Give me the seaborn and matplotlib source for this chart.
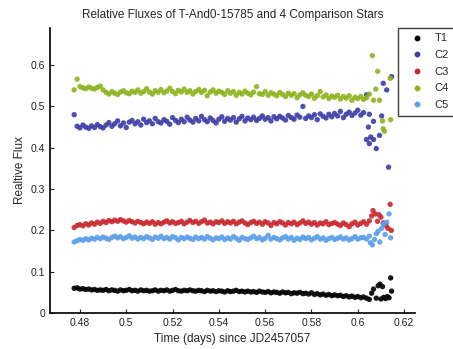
import numpy as np
import pandas as pd
import matplotlib
matplotlib.use('Agg')
import matplotlib.pyplot as plt
import seaborn as sns

# --- observation times (days since JD2457057), main run ---
time = [0.4775, 0.4788, 0.4800, 0.4813, 0.4825, 0.4838, 0.4850, 0.4863, 0.4875, 0.4888,
        0.4900, 0.4913, 0.4925, 0.4938, 0.4950, 0.4963, 0.4975, 0.4988, 0.5000, 0.5013,
        0.5025, 0.5038, 0.5050, 0.5063, 0.5075, 0.5088, 0.5100, 0.5113, 0.5125, 0.5138,
        0.5150, 0.5163, 0.5175, 0.5188, 0.5200, 0.5213, 0.5225, 0.5238, 0.5250, 0.5263,
        0.5275, 0.5288, 0.5300, 0.5313, 0.5325, 0.5338, 0.5350, 0.5363, 0.5375, 0.5388,
        0.5400, 0.5413, 0.5425, 0.5438, 0.5450, 0.5463, 0.5475, 0.5488, 0.5500, 0.5513,
        0.5525, 0.5538, 0.5550, 0.5563, 0.5575, 0.5588, 0.5600, 0.5613, 0.5625, 0.5638,
        0.5650, 0.5663, 0.5675, 0.5688, 0.5700, 0.5713, 0.5725, 0.5738, 0.5750, 0.5763,
        0.5775, 0.5788, 0.5800, 0.5813, 0.5825, 0.5838, 0.5850, 0.5863, 0.5875, 0.5888,
        0.5900, 0.5913, 0.5925, 0.5938, 0.5950, 0.5963, 0.5975, 0.5988, 0.6000, 0.6013,
        0.6025, 0.6038, 0.6050]

t1 = [0.060, 0.061, 0.058, 0.059, 0.057, 0.058, 0.056, 0.057, 0.055, 0.056,
      0.055, 0.057, 0.054, 0.056, 0.055, 0.053, 0.056, 0.054, 0.055, 0.057,
      0.054, 0.055, 0.053, 0.056, 0.054, 0.055, 0.053, 0.054, 0.056, 0.053,
      0.055, 0.054, 0.056, 0.053, 0.055, 0.057, 0.054, 0.053, 0.055, 0.054,
      0.056, 0.054, 0.053, 0.055, 0.054, 0.052, 0.055, 0.053, 0.054, 0.052,
      0.054, 0.053, 0.051, 0.054, 0.052, 0.053, 0.055, 0.052, 0.053, 0.051,
      0.053, 0.051, 0.052, 0.050, 0.053, 0.051, 0.050, 0.052, 0.049, 0.051,
      0.050, 0.048, 0.051, 0.049, 0.050, 0.047, 0.049, 0.048, 0.050, 0.047,
      0.048, 0.046, 0.049, 0.045, 0.047, 0.044, 0.046, 0.043, 0.045, 0.042,
      0.044, 0.042, 0.043, 0.040, 0.042, 0.039, 0.041, 0.038, 0.040, 0.037,
      0.039, 0.036, 0.033]

c2 = [0.480, 0.452, 0.448, 0.455, 0.450, 0.447, 0.453, 0.449, 0.456, 0.451,
      0.448, 0.455, 0.461, 0.452, 0.458, 0.465, 0.453, 0.460, 0.449, 0.462,
      0.466, 0.458, 0.463, 0.455, 0.469, 0.461, 0.465, 0.458, 0.471, 0.463,
      0.460, 0.468, 0.464, 0.457, 0.473, 0.466, 0.461, 0.469, 0.463, 0.474,
      0.467, 0.462, 0.471, 0.465, 0.476, 0.468, 0.463, 0.472, 0.466, 0.460,
      0.469, 0.475, 0.464, 0.471, 0.467, 0.473, 0.462, 0.470, 0.476, 0.465,
      0.472, 0.468, 0.474, 0.466, 0.471, 0.477, 0.469, 0.473, 0.465, 0.475,
      0.470, 0.476, 0.472, 0.467, 0.478, 0.473, 0.469, 0.479, 0.474, 0.500,
      0.471, 0.477, 0.473, 0.480, 0.468, 0.482, 0.476, 0.472, 0.481, 0.475,
      0.483, 0.477, 0.488, 0.473, 0.481, 0.486, 0.478, 0.484, 0.491, 0.479,
      0.485, 0.528, 0.481]

c3 = [0.207, 0.212, 0.214, 0.211, 0.216, 0.213, 0.218, 0.215, 0.220, 0.217,
      0.222, 0.219, 0.224, 0.221, 0.225, 0.222, 0.226, 0.223, 0.220, 0.224,
      0.221, 0.218, 0.222, 0.219, 0.216, 0.220, 0.217, 0.221, 0.215, 0.219,
      0.216, 0.220, 0.223, 0.218, 0.221, 0.217, 0.219, 0.222, 0.216, 0.220,
      0.224, 0.219, 0.222, 0.217, 0.221, 0.225, 0.218, 0.220, 0.216, 0.221,
      0.219, 0.223, 0.217, 0.221, 0.218, 0.222, 0.216, 0.220, 0.223, 0.218,
      0.214, 0.219, 0.222, 0.217, 0.220, 0.215, 0.221, 0.218, 0.212, 0.219,
      0.216, 0.221, 0.218, 0.213, 0.219, 0.216, 0.220, 0.214, 0.218, 0.223,
      0.217, 0.220, 0.215, 0.219, 0.213, 0.218, 0.216, 0.221, 0.214, 0.217,
      0.219, 0.215, 0.212, 0.218, 0.214, 0.209, 0.216, 0.220, 0.213, 0.217,
      0.221, 0.215, 0.223]

c4 = [0.540, 0.566, 0.548, 0.545, 0.543, 0.547, 0.544, 0.542, 0.546, 0.549,
      0.540, 0.534, 0.530, 0.536, 0.532, 0.529, 0.535, 0.538, 0.533, 0.531,
      0.537, 0.534, 0.540, 0.532, 0.536, 0.543, 0.535, 0.530, 0.538, 0.534,
      0.541, 0.533, 0.537, 0.544, 0.536, 0.531, 0.539, 0.535, 0.542, 0.534,
      0.538, 0.530, 0.536, 0.541, 0.534, 0.539, 0.526, 0.535, 0.540, 0.532,
      0.537, 0.534, 0.529, 0.538, 0.532, 0.536, 0.527, 0.534, 0.530, 0.537,
      0.532, 0.528, 0.535, 0.548, 0.531, 0.529, 0.536, 0.527, 0.533, 0.530,
      0.526, 0.534, 0.529, 0.524, 0.532, 0.527, 0.531, 0.521, 0.528, 0.533,
      0.527, 0.524, 0.530, 0.520, 0.526, 0.536, 0.523, 0.528, 0.519, 0.525,
      0.522, 0.527, 0.518, 0.524, 0.520, 0.526, 0.515, 0.522, 0.519, 0.524,
      0.517, 0.521, 0.530]

c5 = [0.172, 0.175, 0.178, 0.176, 0.180, 0.177, 0.181, 0.179, 0.183, 0.180,
      0.184, 0.181, 0.178, 0.183, 0.186, 0.182, 0.185, 0.180, 0.183, 0.187,
      0.181, 0.184, 0.179, 0.183, 0.180, 0.185, 0.182, 0.178, 0.184, 0.181,
      0.186, 0.180, 0.183, 0.179, 0.185, 0.182, 0.177, 0.183, 0.180, 0.184,
      0.181, 0.178, 0.184, 0.180, 0.183, 0.179, 0.185, 0.181, 0.177, 0.182,
      0.180, 0.184, 0.178, 0.182, 0.179, 0.185, 0.181, 0.176, 0.183, 0.180,
      0.178, 0.182, 0.186, 0.180, 0.183, 0.177, 0.181, 0.188, 0.179, 0.183,
      0.180, 0.177, 0.182, 0.185, 0.179, 0.183, 0.176, 0.181, 0.178, 0.184,
      0.180, 0.183, 0.177, 0.181, 0.185, 0.179, 0.182, 0.176, 0.180, 0.183,
      0.178, 0.181, 0.184, 0.179, 0.182, 0.177, 0.180, 0.185, 0.179, 0.182,
      0.183, 0.179, 0.186]

# --- scattered points at the end of the night ---
t1_tail_t = [0.6060, 0.6068, 0.6080, 0.6088, 0.6096, 0.6100, 0.6107, 0.6112, 0.6120, 0.6128, 0.6135, 0.6142, 0.6146]
t1_tail_v = [0.048, 0.058, 0.036, 0.066, 0.070, 0.034, 0.064, 0.038, 0.035, 0.040, 0.037, 0.085, 0.053]

c2_tail_t = [0.6038, 0.6046, 0.6050, 0.6056, 0.6068, 0.6068, 0.6080, 0.6094, 0.6103, 0.6110, 0.6125, 0.6133, 0.6146]
c2_tail_v = [0.420, 0.450, 0.410, 0.426, 0.420, 0.464, 0.398, 0.430, 0.477, 0.556, 0.540, 0.353, 0.572]

c3_tail_t = [0.6060, 0.6066, 0.6075, 0.6085, 0.6092, 0.6100, 0.6110, 0.6122, 0.6130, 0.6140, 0.6145]
c3_tail_v = [0.235, 0.248, 0.240, 0.222, 0.238, 0.232, 0.218, 0.212, 0.205, 0.263, 0.200]

c4_tail_t = [0.6063, 0.6068, 0.6078, 0.6086, 0.6094, 0.6107, 0.6110, 0.6115, 0.6140, 0.6142]
c4_tail_v = [0.623, 0.515, 0.542, 0.585, 0.515, 0.465, 0.446, 0.440, 0.568, 0.468]

c5_tail_t = [0.6055, 0.6063, 0.6072, 0.6080, 0.6088, 0.6095, 0.6103, 0.6110, 0.6118, 0.6125, 0.6135, 0.6142]
c5_tail_v = [0.170, 0.165, 0.178, 0.192, 0.198, 0.172, 0.205, 0.215, 0.190, 0.220, 0.240, 0.182]

stars = ['T1', 'C2', 'C3', 'C4', 'C5']
colors = ['#000000', '#3c3ca6', '#c8282e', '#8db31e', '#5b9fe8']

series = {
    'T1': (time + t1_tail_t, t1 + t1_tail_v),
    'C2': (time + c2_tail_t, c2 + c2_tail_v),
    'C3': (time + c3_tail_t, c3 + c3_tail_v),
    'C4': (time + c4_tail_t, c4 + c4_tail_v),
    'C5': (time + c5_tail_t, c5 + c5_tail_v),
}

frames = []
for name in stars:
    tt, vv = series[name]
    frames.append(pd.DataFrame({'time': tt, 'flux': vv, 'star': name}))
df = pd.concat(frames, ignore_index=True)

sns.set_style('ticks')
plt.rcParams['font.family'] = ['Liberation Sans', 'DejaVu Sans']

fig = plt.figure(figsize=(4.53, 3.49), dpi=100)
ax = fig.add_axes([0.110, 0.103, 0.806, 0.817])

sns.scatterplot(data=df, x='time', y='flux', hue='star', hue_order=stars,
                palette=colors, s=15, linewidth=0, alpha=0.9, ax=ax, legend=False)

ax.set_xlim(0.467, 0.6247)
ax.set_ylim(0, 0.69)
xt = [0.48, 0.50, 0.52, 0.54, 0.56, 0.58, 0.60, 0.62]
ax.set_xticks(xt)
ax.set_xticklabels(['0.48', '0.5', '0.52', '0.54', '0.56', '0.58', '0.6', '0.62'])
yt = [0, 0.1, 0.2, 0.3, 0.4, 0.5, 0.6]
ax.set_yticks(yt)
ax.set_yticklabels(['0', '0.1', '0.2', '0.3', '0.4', '0.5', '0.6'])
ax.tick_params(direction='in', length=3, labelsize=7.5, colors='#222222', width=0.8)

for side in ['top', 'right']:
    ax.spines[side].set_visible(False)
for side in ['left', 'bottom']:
    ax.spines[side].set_linewidth(1.3)
    ax.spines[side].set_color('#111111')

ax.set_xlabel('Time (days) since JD2457057', fontsize=8.5, labelpad=4)
ax.set_ylabel('Realtive Flux', fontsize=8.5, labelpad=3)
ax.set_title('Relative Fluxes of T-And0-15785 and 4 Comparison Stars', fontsize=8.5, pad=7)

handles = [plt.Line2D([], [], marker='o', linestyle='', color=c, markersize=3.2) for c in colors]
leg = fig.legend(handles, stars, loc='upper right', bbox_to_anchor=(1.003, 0.920),
                 fontsize=8, frameon=True, fancybox=False, handletextpad=0.4,
                 borderpad=0.5, labelspacing=0.6, handlelength=2.4, borderaxespad=0.0)
leg.get_frame().set_edgecolor('#111111')
leg.get_frame().set_linewidth(1.0)

fig.savefig('out.png', dpi=100)
